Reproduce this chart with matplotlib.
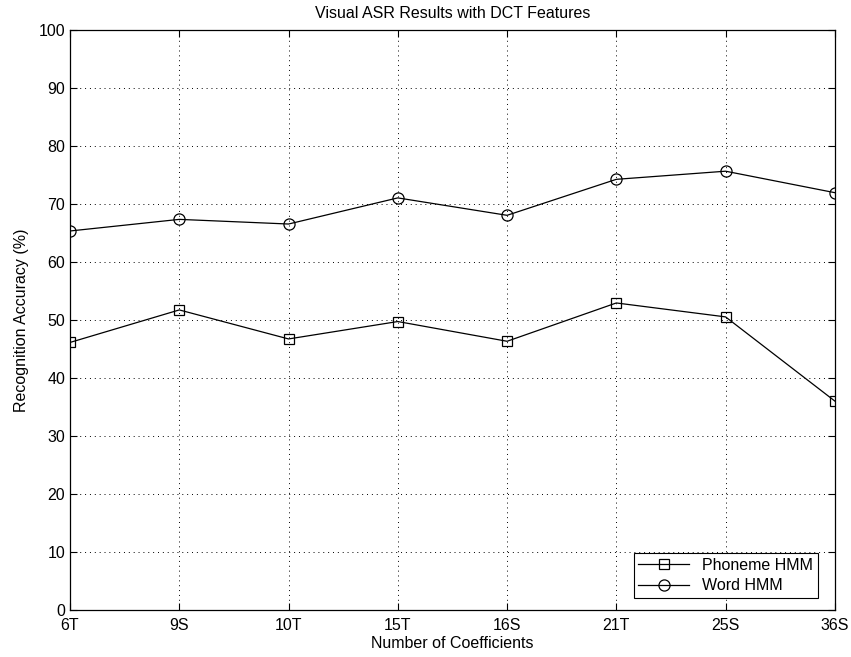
import matplotlib
matplotlib.use("Agg")
import matplotlib.pyplot as plt

plt.rcParams['font.family'] = ['Liberation Sans', 'DejaVu Sans']

coefficients = ['6T', '9S', '10T', '15T', '16S', '21T', '25S', '36S']
phoneme_hmm = [46.1, 51.7, 46.7, 49.7, 46.3, 52.9, 50.5, 36.0]
word_hmm = [65.3, 67.3, 66.5, 71.0, 68.0, 74.2, 75.6, 71.9]

fs = 11.5

fig = plt.figure(figsize=(8.51, 6.57), dpi=100)
ax = fig.add_axes([0.0823, 0.0715, 0.8987, 0.8835])

x = range(len(coefficients))
ax.plot(x, phoneme_hmm, color='black', linewidth=0.9, marker='s',
        markersize=6.5, markerfacecolor='none', markeredgewidth=0.9,
        label='Phoneme HMM')
ax.plot(x, word_hmm, color='black', linewidth=0.9, marker='o',
        markersize=8, markerfacecolor='none', markeredgewidth=0.9,
        label='Word HMM')

ax.set_xlim(0, len(coefficients) - 1)
ax.set_ylim(0, 100)
ax.set_xticks(list(x))
ax.set_xticklabels(coefficients)
ax.set_yticks(range(0, 101, 10))

ax.tick_params(direction='in', top=True, right=True, labelsize=fs,
               length=5, width=0.8)
ax.tick_params(axis='x', pad=6)
ax.tick_params(axis='y', pad=3.5)
ax.grid(True, linestyle=(0, (1, 4)), color='black', linewidth=0.7)
for s in ax.spines.values():
    s.set_linewidth(0.9)

ax.set_xlabel('Number of Coefficients', fontsize=fs, labelpad=2)
ax.set_ylabel('Recognition Accuracy (%)', fontsize=fs, labelpad=7)
ax.set_title('Visual ASR Results with DCT Features', fontsize=fs, pad=8)

leg = ax.legend(loc='lower right', bbox_to_anchor=(0.978, 0.0207),
                borderaxespad=0, fontsize=fs, fancybox=False,
                edgecolor='black', framealpha=1, handlelength=3.2,
                borderpad=0.3, labelspacing=0.35)
leg.get_frame().set_linewidth(0.8)

fig.savefig('out.png', dpi=100)
